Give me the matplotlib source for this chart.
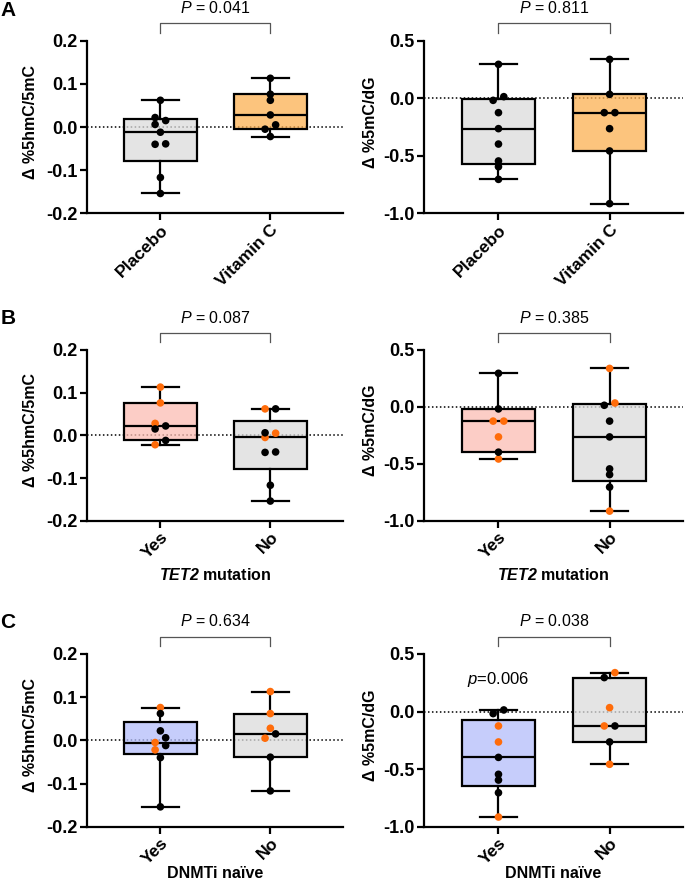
import numpy as np
import matplotlib
matplotlib.use('Agg')
import matplotlib.pyplot as plt
from matplotlib.ticker import FormatStrFormatter

plt.rcParams['font.family'] = ['Liberation Sans', 'DejaVu Sans']
plt.rcParams['axes.unicode_minus'] = False
plt.rcParams['mathtext.fontset'] = 'custom'
plt.rcParams['mathtext.rm'] = 'Liberation Sans'
plt.rcParams['mathtext.it'] = 'Liberation Sans:italic'
plt.rcParams['mathtext.bfit'] = 'Liberation Sans:italic:bold'

# delta %5hmC/5mC per patient
hmc_placebo = [0.062, 0.022, 0.015, 0.006, -0.012, -0.039, -0.040, -0.117, -0.154]
hmc_placebo_tet2 = [0, 1, 1, 0, 1, 0, 0, 0, 0]
hmc_placebo_naive = [1, 1, 0, 1, 1, 0, 1, 0, 1]
hmc_vitc = [0.113, 0.076, 0.062, 0.028, 0.005, -0.005, -0.022]
hmc_vitc_tet2 = [1, 1, 0, 1, 0, 0, 1]
hmc_vitc_naive = [0, 1, 0, 0, 0, 1, 1]

# delta %5mC/dG per patient
mc_placebo = [0.295, 0.014, -0.018, -0.125, -0.264, -0.398, -0.545, -0.595, -0.705]
mc_placebo_tet2 = [1, 0, 1, 0, 0, 1, 0, 0, 0]
mc_placebo_naive = [0, 1, 1, 0, 0, 1, 1, 1, 1]
mc_vitc = [0.338, 0.034, -0.125, -0.125, -0.264, -0.458, -0.916]
mc_vitc_tet2 = [0, 0, 1, 1, 1, 1, 0]
mc_vitc_naive = [0, 0, 1, 0, 1, 0, 1]

p_values = {'A': ['0.041', '0.811'], 'B': ['0.087', '0.385'], 'C': ['0.634', '0.038']}
treat_labels = ['Placebo', 'Vitamin C']
yes_no = ['Yes', 'No']

ORANGE = '#ff6c0a'
GREY = (0.86, 0.86, 0.86, 0.75)
BOX_ORANGE = (0.99, 0.69, 0.32, 0.75)
BOX_PINK = (0.99, 0.74, 0.70, 0.75)
BOX_BLUE = (0.70, 0.74, 0.98, 0.75)


def box_stats(vals):
    v = np.asarray(vals)
    q1, med, q3 = np.percentile(v, [25, 50, 75], method='weibull')
    return dict(med=med, q1=q1, q3=q3, whislo=v.min(), whishi=v.max(), fliers=[])


def subgroup(want, vitc, vitc_flag, plac, plac_flag):
    v = [x for x, f in zip(vitc, vitc_flag) if f == want]
    p = [x for x, f in zip(plac, plac_flag) if f == want]
    return v + p, [ORANGE] * len(v) + ['black'] * len(p)


def swarm_x(ax, pos, vals, step=0.048, thresh=5.0):
    vals = np.asarray(vals, dtype=float)
    px = ax.transData.transform(np.column_stack([np.zeros_like(vals), vals]))[:, 1]
    order = np.argsort(vals, kind='stable')
    offs = np.zeros(len(vals))
    clusters = [[order[0]]]
    for i in order[1:]:
        if px[i] - px[clusters[-1][-1]] < thresh:
            clusters[-1].append(i)
        else:
            clusters.append([i])
    for c in clusters:
        if len(c) > 1:
            for k, i in enumerate(c):
                offs[i] = -step if k % 2 == 0 else step
    return pos + offs


def draw_panel(ax, groups, box_colors, ylim, yticks, ylabel, ptext, xlabels,
               xlabel=None, labx=-0.19, xlab_y=-0.32):
    ax.set_xlim(-0.67, 1.66)
    ax.set_ylim(*ylim)
    ax.axhline(0, color='black', lw=1.1, ls=(0, (1, 1.6)), zorder=1)
    stats = [box_stats(g[0]) for g in groups]
    bp = ax.bxp(stats, positions=[0, 1], widths=0.66, capwidths=0.34,
                patch_artist=True, showfliers=False, zorder=2,
                boxprops=dict(edgecolor='black', linewidth=1.6),
                whiskerprops=dict(color='black', linewidth=1.6),
                capprops=dict(color='black', linewidth=1.6),
                medianprops=dict(color='black', linewidth=1.6))
    for patch, c in zip(bp['boxes'], box_colors):
        patch.set_facecolor(c)
    for pos, (vals, cols) in enumerate(groups):
        xs = swarm_x(ax, pos, vals)
        ax.scatter(xs, vals, s=30, c=cols, zorder=4, linewidths=0)

    for s in ['top', 'right']:
        ax.spines[s].set_visible(False)
    for s in ['left', 'bottom']:
        ax.spines[s].set_linewidth(1.6)
    ax.set_yticks(yticks)
    ax.yaxis.set_major_formatter(FormatStrFormatter('%.1f'))
    ax.tick_params(axis='both', length=5, width=1.6, pad=1.5)
    ax.tick_params(axis='y', labelsize=13)
    for t in ax.get_yticklabels():
        t.set_fontweight('bold')
    ax.set_xticks([0, 1])
    ax.set_xticklabels(xlabels, rotation=45, ha='right', rotation_mode='anchor',
                       fontsize=12.5, fontweight='bold')
    ax.set_ylabel(ylabel, fontsize=11.5, fontweight='bold')
    ax.yaxis.set_label_coords(labx, 0.53)

    tr = ax.get_xaxis_transform()
    ax.plot([0, 0, 1, 1], [1.045, 1.10, 1.10, 1.045], color='#555555', lw=0.9,
            transform=tr, clip_on=False)
    ax.text(0.5, 1.19, r'$P$ = ' + ptext, transform=tr, ha='center', va='center',
            fontsize=11.5)
    if xlabel is not None:
        ax.text(0.5, xlab_y, xlabel, transform=ax.transAxes, ha='center', va='center',
                fontsize=11.5, fontweight='bold')


fig = plt.figure(figsize=(6.85, 8.84), dpi=100)
rows = {'A': (0.7587, 0.1952), 'B': (0.4110, 0.1931), 'C': (0.0648, 0.1954)}
cols = [(0.1266, 0.374), (0.619, 0.378)]
axes = {}
for r, (b, h) in rows.items():
    axes[r] = [fig.add_axes([l, b, w, h]) for l, w in cols]

hmc_lim, hmc_ticks = (-0.2, 0.2), [-0.2, -0.1, 0.0, 0.1, 0.2]
mc_lim, mc_ticks = (-1.0, 0.5), [-1.0, -0.5, 0.0, 0.5]
hmc_lab = 'Δ %5hmC/5mC'
mc_lab = 'Δ %5mC/dG'

# A: treatment arms
draw_panel(axes['A'][0],
           [(hmc_placebo, ['black'] * len(hmc_placebo)), (hmc_vitc, ['black'] * len(hmc_vitc))],
           [GREY, BOX_ORANGE], hmc_lim, hmc_ticks, hmc_lab, p_values['A'][0], treat_labels)
draw_panel(axes['A'][1],
           [(mc_placebo, ['black'] * len(mc_placebo)), (mc_vitc, ['black'] * len(mc_vitc))],
           [GREY, BOX_ORANGE], mc_lim, mc_ticks, mc_lab, p_values['A'][1], treat_labels,
           labx=-0.178)

# B: TET2 mutation
tet2_lab = r'$\mathbfit{TET2}$ mutation'
draw_panel(axes['B'][0],
           [subgroup(1, hmc_vitc, hmc_vitc_tet2, hmc_placebo, hmc_placebo_tet2),
            subgroup(0, hmc_vitc, hmc_vitc_tet2, hmc_placebo, hmc_placebo_tet2)],
           [BOX_PINK, GREY], hmc_lim, hmc_ticks, hmc_lab, p_values['B'][0], yes_no, tet2_lab)
draw_panel(axes['B'][1],
           [subgroup(1, mc_vitc, mc_vitc_tet2, mc_placebo, mc_placebo_tet2),
            subgroup(0, mc_vitc, mc_vitc_tet2, mc_placebo, mc_placebo_tet2)],
           [BOX_PINK, GREY], mc_lim, mc_ticks, mc_lab, p_values['B'][1], yes_no, tet2_lab,
           labx=-0.178)

# C: DNMTi naive
naive_lab = 'DNMTi naïve'
draw_panel(axes['C'][0],
           [subgroup(1, hmc_vitc, hmc_vitc_naive, hmc_placebo, hmc_placebo_naive),
            subgroup(0, hmc_vitc, hmc_vitc_naive, hmc_placebo, hmc_placebo_naive)],
           [BOX_BLUE, GREY], hmc_lim, hmc_ticks, hmc_lab, p_values['C'][0], yes_no, naive_lab,
           xlab_y=-0.27)
draw_panel(axes['C'][1],
           [subgroup(1, mc_vitc, mc_vitc_naive, mc_placebo, mc_placebo_naive),
            subgroup(0, mc_vitc, mc_vitc_naive, mc_placebo, mc_placebo_naive)],
           [BOX_BLUE, GREY], mc_lim, mc_ticks, mc_lab, p_values['C'][1], yes_no, naive_lab,
           labx=-0.178, xlab_y=-0.27)
axes['C'][1].text(0, 0.28, r'$p$=0.006', ha='center', va='center', fontsize=12)

for letter, y in [('A', 11), ('B', 318), ('C', 623)]:
    fig.text(8 / 685, 1 - y / 884, letter, fontsize=15, fontweight='bold',
             ha='center', va='center')

fig.savefig('out.png', dpi=100)
